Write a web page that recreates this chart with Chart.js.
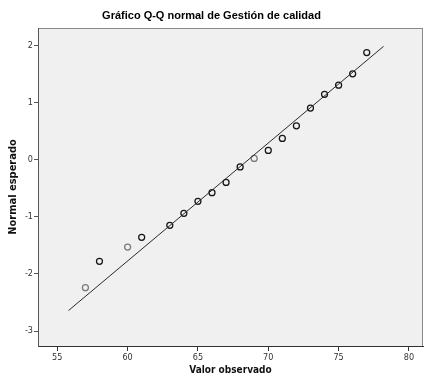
<!DOCTYPE html>
<html>
<head>
<meta charset="utf-8">
<script src="https://cdn.jsdelivr.net/npm/chart.js@4/dist/chart.umd.min.js"></script>
<style>
  html, body { margin: 0; padding: 0; background: #fff; }
  #wrap { width: 424px; height: 380px; }
</style>
</head>
<body>
<div id="wrap"><canvas id="qqChart" width="424" height="380"></canvas></div>
<script>
// observed values and their expected normal scores
const observed = [57, 58, 60, 61, 63, 64, 65, 66, 67, 68, 69, 70, 71, 72, 73, 74, 75, 76, 77];
const expected = [-2.24, -1.78, -1.53, -1.36, -1.15, -0.94, -0.73, -0.58, -0.40, -0.13, 0.02, 0.16, 0.37, 0.59, 0.90, 1.14, 1.30, 1.50, 1.87];
// lighter markers
const lightPoints = [57, 60, 69];

// reference line end points
const lineX = [55.8, 78.2];
const lineY = [-2.64, 1.98];

const xTicks = [55, 60, 65, 70, 75, 80];
const yTicks = [-3, -2, -1, 0, 1, 2];

const tickFont = { family: "'DejaVu Sans Condensed', 'Liberation Sans Narrow', sans-serif", size: 9 };

// grey plot background with a thin frame
const plotBg = {
  id: 'plotBg',
  beforeDraw(chart) {
    const { ctx, chartArea: a } = chart;
    ctx.save();
    ctx.fillStyle = '#f0f0f0';
    ctx.fillRect(a.left, a.top, a.right - a.left, a.bottom - a.top);
    ctx.strokeStyle = '#8a8a8a';
    ctx.lineWidth = 1;
    ctx.strokeRect(a.left + 0.5, a.top + 0.5, a.right - a.left - 1, a.bottom - a.top);
    ctx.restore();
  }
};

const points = observed.map((x, i) => ({ x: x, y: expected[i] }));
const pointColors = observed.map(x => lightPoints.includes(x) ? '#7a7a7a' : '#151515');

new Chart(document.getElementById('qqChart'), {
  type: 'scatter',
  data: {
    datasets: [
      {
        type: 'line',
        data: lineX.map((x, i) => ({ x: x, y: lineY[i] })),
        borderColor: '#2a2a2a',
        borderWidth: 1,
        pointRadius: 0,
        fill: false
      },
      {
        data: points,
        pointStyle: 'circle',
        pointRadius: 3,
        borderWidth: 1.25,
        borderColor: pointColors,
        backgroundColor: 'rgba(0,0,0,0)'
      }
    ]
  },
  options: {
    responsive: false,
    animation: false,
    layout: { autoPadding: false, padding: { right: 1, left: 0, bottom: 0, top: 0 } },
    plugins: {
      legend: { display: false },
      tooltip: { enabled: false },
      title: {
        display: true,
        text: 'Gráfico Q-Q normal de Gestión de calidad',
        color: '#000',
        font: { family: "'Liberation Sans', Arial, sans-serif", size: 11, weight: 'bold' },
        padding: { top: 9.5, bottom: 5.3 }
      }
    },
    scales: {
      x: {
        type: 'linear',
        min: 53.63,
        max: 81.0,
        afterBuildTicks: s => { s.ticks = xTicks.map(v => ({ value: v })); },
        afterFit: s => { s.height = 34; s.paddingRight = 0; s.paddingLeft = 0; },
        border: { display: true, color: '#333', width: 1 },
        grid: { drawOnChartArea: false, drawTicks: true, tickLength: 5, tickColor: '#333' },
        ticks: { color: '#333', font: tickFont, padding: 1, maxRotation: 0 },
        title: {
          display: true, text: 'Valor observado', color: '#111',
          font: { family: "'DejaVu Sans Condensed', sans-serif", size: 10, weight: 'bold' },
          padding: { bottom: 3.5 }
        }
      },
      y: {
        type: 'linear',
        min: -3.26,
        max: 2.3,
        afterBuildTicks: s => { s.ticks = yTicks.map(v => ({ value: v })); },
        afterFit: s => { s.width = 38; s.paddingTop = 0; s.paddingBottom = 0; },
        border: { display: true, color: '#555', width: 1 },
        grid: { drawOnChartArea: false, drawTicks: true, tickLength: 4, tickColor: '#555' },
        ticks: { color: '#333', font: tickFont, padding: 1 },
        title: {
          display: true, text: 'Normal esperado', color: '#111',
          font: { family: "'DejaVu Sans Condensed', sans-serif", size: 11, weight: 'bold' },
          padding: { top: 7 }
        }
      }
    }
  },
  plugins: [plotBg]
});
</script>
</body>
</html>
